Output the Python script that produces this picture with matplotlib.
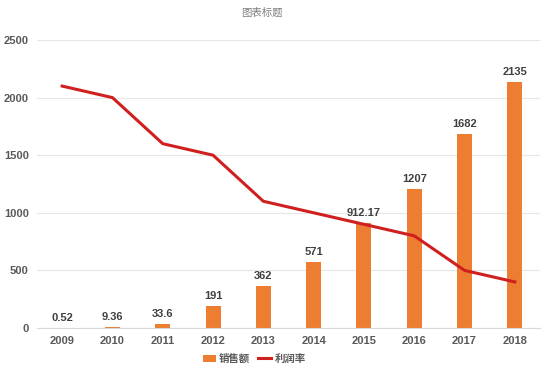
import matplotlib
matplotlib.use("Agg")
import matplotlib.pyplot as plt
import numpy as np

years = ["2009", "2010", "2011", "2012", "2013", "2014", "2015", "2016", "2017", "2018"]
sales = [0.52, 9.36, 33.6, 191, 362, 571, 912.17, 1207, 1682, 2135]
sales_labels = ["0.52", "9.36", "33.6", "191", "362", "571", "912.17", "1207", "1682", "2135"]
profit = [2100, 2000, 1600, 1500, 1100, 1000, 900, 800, 500, 400]
yticks = [0, 500, 1000, 1500, 2000, 2500]

plt.rcParams['font.family'] = ['Liberation Sans', 'Noto Sans CJK SC', 'DejaVu Sans']

fig = plt.figure(figsize=(5.54, 3.76), dpi=100)
ax = fig.add_axes([37/554, 1-328/376, (540-37)/554, (328-40)/376])

x = np.arange(len(years))
bars = ax.bar(x, sales, width=0.3, color='#ED7D31', label='销售额', zorder=2)
line, = ax.plot(x, profit, color='#D01F1F', lw=2.2, label='利润率', zorder=3)

for xi, v, lab in zip(x, sales, sales_labels):
    ax.text(xi, v + 45, lab, ha='center', va='bottom', fontsize=8, fontweight='bold', color='#404040')

ax.set_xlim(-0.5, len(years) - 0.5)
ax.set_ylim(0, 2500)
ax.set_yticks(yticks)
ax.set_xticks(x)
ax.set_xticklabels(years)
for lab in ax.get_xticklabels() + ax.get_yticklabels():
    lab.set_fontweight('bold')
    lab.set_color('#595959')
    lab.set_fontsize(8)
ax.tick_params(axis='both', length=0)
ax.tick_params(axis='y', pad=6)
ax.tick_params(axis='x', pad=6)
ax.grid(axis='y', color='#E6E6E6', lw=0.8, zorder=0)
for s in ['top', 'right', 'left']:
    ax.spines[s].set_visible(False)
ax.spines['bottom'].set_color('#D9D9D9')

fig.text(262/554, 1-13/376, '图表标题', ha='center', va='center', fontsize=7.5, color='#7F7F7F',
         family=['Noto Sans CJK SC', 'DejaVu Sans'])

leg = fig.legend(handles=[bars, line], labels=['销售额', '利润率'], loc='center',
                 bbox_to_anchor=(254/554, 1-359/376), ncol=2, frameon=False,
                 prop={'family': ['Noto Sans CJK SC', 'DejaVu Sans'], 'size': 7.5, 'weight': 'bold'},
                 handlelength=1.3, handletextpad=0.3, columnspacing=0.7)
for t in leg.get_texts():
    t.set_color('#595959')

fig.savefig('out.png', dpi=100)
